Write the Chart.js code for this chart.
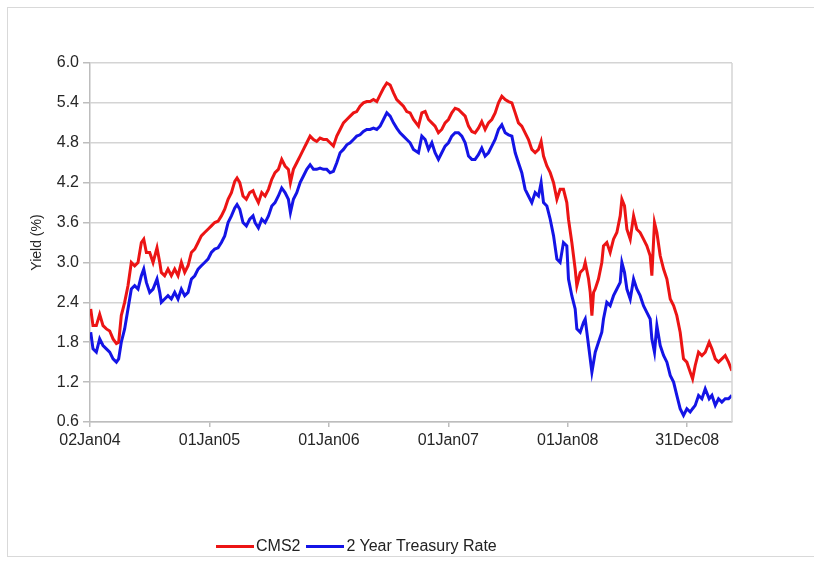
<!DOCTYPE html>
<html>
<head>
<meta charset="utf-8">
<script src="https://cdn.jsdelivr.net/npm/chart.js@4.4.1/dist/chart.umd.min.js"></script>
<style>
  html, body { margin: 0; padding: 0; background: #ffffff; }
  #wrap { position: relative; width: 814px; height: 563px; overflow: hidden; }
  #frame { position: absolute; left: 7px; top: 7px; width: 900px; height: 550px; border: 1.5px solid #d9d9d9; box-sizing: border-box; }
  canvas { position: absolute; left: 0; top: 0; }
  #legend { position: absolute; left: 216px; top: 537px; display: flex; align-items: center; font-family: "Liberation Sans", Arial, sans-serif; font-size: 16px; color: #222; white-space: nowrap; }
  #legend .item { display: flex; align-items: center; margin-right: 6px; }
  #legend .swatch { display: inline-block; width: 38px; height: 3px; margin-right: 2px; }
</style>
</head>
<body>
<div id="wrap">
  <div id="frame"></div>
  <canvas id="c" width="814" height="563"></canvas>
  <div id="legend"></div>
</div>
<script>
// Time in years since 02 Jan 2004
const time = [
  0.006,0.025,0.053,0.081,0.109,0.137,0.165,0.193,0.221,0.240,0.262,0.290,0.318,0.346,0.374,0.402,0.430,0.450,0.472,0.500,
  0.528,0.561,0.584,0.597,0.625,0.653,0.681,0.709,0.737,0.765,0.793,0.821,0.849,0.877,0.905,0.932,0.960,0.988,1.016,1.044,
  1.072,1.100,1.128,1.156,1.184,1.212,1.231,1.254,1.281,1.309,1.337,1.365,1.382,1.410,1.438,1.466,1.494,1.522,1.549,1.577,
  1.605,1.633,1.661,1.678,1.703,1.731,1.759,1.787,1.815,1.843,1.871,1.898,1.926,1.954,1.982,2.010,2.038,2.066,2.094,2.122,
  2.150,2.178,2.206,2.233,2.261,2.289,2.317,2.345,2.373,2.401,2.429,2.457,2.485,2.513,2.541,2.568,2.596,2.624,2.652,2.680,
  2.708,2.750,2.778,2.806,2.834,2.862,2.889,2.917,2.945,2.973,3.001,3.029,3.057,3.085,3.113,3.141,3.169,3.197,3.224,3.252,
  3.280,3.308,3.336,3.364,3.392,3.420,3.448,3.476,3.504,3.532,3.560,3.587,3.615,3.643,3.671,3.699,3.727,3.755,3.777,3.797,
  3.825,3.853,3.881,3.909,3.936,3.964,3.992,4.006,4.034,4.062,4.076,4.104,4.132,4.146,4.174,4.188,4.202,4.216,4.230,4.257,
  4.285,4.299,4.327,4.355,4.383,4.411,4.439,4.453,4.475,4.495,4.523,4.551,4.578,4.606,4.634,4.662,4.690,4.704,4.726,4.746,
  4.774,4.802,4.830,4.858,4.886,4.913,4.941,4.969,4.997,5.025,5.045,5.067,5.095,5.123,5.151,5.184,5.207,5.235,5.262,5.290,
  5.318,5.346,5.374
];

const cms2 = [
  2.30,2.05,2.05,2.22,2.05,2.00,1.97,1.85,1.78,1.80,2.20,2.40,2.65,3.00,2.95,3.00,3.30,3.35,3.15,3.15,
  3.00,3.22,3.00,2.85,2.80,2.90,2.80,2.90,2.80,3.00,2.85,2.95,3.15,3.20,3.30,3.40,3.45,3.50,3.55,3.60,
  3.62,3.70,3.80,3.95,4.05,4.22,4.27,4.20,4.00,3.95,4.05,4.08,4.00,3.90,4.05,4.00,4.10,4.25,4.35,4.40,
  4.55,4.45,4.40,4.20,4.40,4.50,4.60,4.70,4.80,4.90,4.85,4.82,4.87,4.85,4.85,4.80,4.75,4.90,5.00,5.10,
  5.15,5.20,5.25,5.27,5.35,5.40,5.42,5.42,5.45,5.42,5.52,5.62,5.70,5.67,5.55,5.45,5.40,5.35,5.27,5.25,
  5.15,5.05,5.25,5.27,5.15,5.10,5.05,4.95,5.00,5.10,5.15,5.25,5.32,5.30,5.25,5.20,5.05,4.97,4.95,5.02,
  5.12,5.00,5.10,5.15,5.25,5.40,5.50,5.45,5.42,5.40,5.25,5.10,5.05,4.95,4.85,4.70,4.65,4.70,4.82,4.60,
  4.45,4.35,4.20,3.95,4.10,4.10,3.90,3.65,3.30,2.90,2.65,2.85,2.90,3.00,2.75,2.55,2.20,2.55,2.60,2.75,
  3.00,3.25,3.30,3.15,3.35,3.45,3.70,3.95,3.85,3.50,3.35,3.70,3.50,3.45,3.35,3.25,3.10,2.80,3.60,3.45,
  3.10,2.90,2.75,2.45,2.35,2.20,1.95,1.55,1.50,1.35,1.25,1.45,1.65,1.60,1.65,1.80,1.70,1.55,1.50,1.55,
  1.60,1.50,1.37
];

const treasury = [
  1.95,1.70,1.65,1.85,1.75,1.70,1.65,1.55,1.50,1.55,1.80,2.00,2.30,2.60,2.65,2.60,2.80,2.90,2.70,2.55,
  2.60,2.75,2.55,2.40,2.45,2.50,2.45,2.55,2.45,2.60,2.50,2.55,2.75,2.80,2.90,2.95,3.00,3.05,3.15,3.20,
  3.22,3.30,3.40,3.60,3.70,3.82,3.87,3.80,3.60,3.55,3.65,3.70,3.60,3.52,3.65,3.60,3.70,3.85,3.90,4.00,
  4.12,4.05,3.95,3.75,3.95,4.05,4.20,4.30,4.40,4.47,4.40,4.40,4.42,4.40,4.40,4.35,4.37,4.50,4.65,4.70,
  4.77,4.80,4.85,4.90,4.92,4.97,5.00,5.00,5.02,5.00,5.05,5.15,5.25,5.20,5.10,5.02,4.95,4.90,4.85,4.80,
  4.70,4.65,4.90,4.85,4.70,4.80,4.65,4.55,4.65,4.75,4.80,4.90,4.95,4.95,4.90,4.80,4.60,4.55,4.55,4.62,
  4.72,4.60,4.65,4.75,4.85,5.00,5.07,4.95,4.92,4.90,4.65,4.50,4.35,4.10,4.00,3.90,4.05,4.00,4.20,3.90,
  3.85,3.65,3.40,3.05,3.00,3.30,3.25,2.75,2.50,2.30,2.00,1.95,2.10,2.15,1.75,1.55,1.35,1.50,1.65,1.80,
  1.95,2.15,2.40,2.35,2.50,2.60,2.70,3.00,2.85,2.60,2.45,2.75,2.60,2.50,2.35,2.25,2.15,1.85,1.65,2.05,
  1.75,1.60,1.50,1.30,1.20,1.00,0.80,0.70,0.80,0.75,0.80,0.85,1.00,0.95,1.10,0.95,1.00,0.85,0.95,0.90,
  0.95,0.95,1.00
];

const xTickPositions = [0, 1, 2, 3, 4, 5];
const xTickLabels = ['02Jan04', '01Jan05', '01Jan06', '01Jan07', '01Jan08', '31Dec08'];
const yTicks = [0.6, 1.2, 1.8, 2.4, 3.0, 3.6, 4.2, 4.8, 5.4, 6.0];
const seriesNames = ['CMS2', '2 Year Treasury Rate'];
const seriesColors = ['rgb(236,20,20)', 'rgb(20,20,230)'];

const FONT = '"Liberation Sans", Arial, sans-serif';
const TEXT = '#262626';
const GRID = '#d4d4d4';
const AXIS = '#bdbdbd';

const plotRightBorder = {
  id: 'plotRightBorder',
  afterDraw(chart) {
    const { ctx, chartArea } = chart;
    ctx.save();
    ctx.strokeStyle = GRID;
    ctx.lineWidth = 1.5;
    ctx.beginPath();
    ctx.moveTo(chartArea.right, chartArea.top);
    ctx.lineTo(chartArea.right, chartArea.bottom);
    ctx.stroke();
    ctx.restore();
  }
};

const chart = new Chart(document.getElementById('c'), {
  type: 'line',
  data: {
    datasets: [
      { label: seriesNames[0], data: time.map((t, i) => ({ x: t, y: cms2[i] })), borderColor: seriesColors[0], backgroundColor: seriesColors[0], borderWidth: 3, pointRadius: 0, tension: 0, order: 2 },
      { label: seriesNames[1], data: time.map((t, i) => ({ x: t, y: treasury[i] })), borderColor: seriesColors[1], backgroundColor: seriesColors[1], borderWidth: 3, pointRadius: 0, tension: 0, order: 1 }
    ]
  },
  options: {
    responsive: false,
    animation: false,
    layout: { padding: { left: 0, top: 63, right: 82, bottom: 111 } },
    plugins: { legend: { display: false }, tooltip: { enabled: false } },
    scales: {
      x: {
        type: 'linear',
        min: 0,
        max: 5.375,
        afterBuildTicks: s => { s.ticks = xTickPositions.map(v => ({ value: v })); },
        afterFit: s => { s.height = 30; },
        ticks: {
          autoSkip: false,
          maxRotation: 0,
          padding: 4,
          color: TEXT,
          font: { family: FONT, size: 16 },
          callback: (v, i) => xTickLabels[i]
        },
        grid: { drawOnChartArea: false, drawTicks: true, tickLength: 5, color: AXIS, lineWidth: 1.5 },
        border: { color: AXIS, width: 1.5 }
      },
      y: {
        min: 0.6,
        max: 6.0,
        afterBuildTicks: s => { s.ticks = yTicks.map(v => ({ value: v })); },
        afterFit: s => { s.width = 90; },
        ticks: {
          padding: 4,
          color: TEXT,
          font: { family: FONT, size: 16 },
          callback: v => Number(v).toFixed(1)
        },
        grid: { color: GRID, lineWidth: 1.5, tickLength: 7, tickColor: AXIS },
        border: { color: AXIS, width: 1.5 },
        title: { display: true, text: 'Yield (%)', color: TEXT, font: { family: FONT, size: 14 }, padding: { top: 29, bottom: 0 } }
      }
    }
  },
  plugins: [plotRightBorder]
});

// HTML legend built from the chart's datasets
const legendEl = document.getElementById('legend');
chart.data.datasets.forEach(ds => {
  const item = document.createElement('span');
  item.className = 'item';
  const sw = document.createElement('span');
  sw.className = 'swatch';
  sw.style.background = ds.borderColor;
  const tx = document.createElement('span');
  tx.textContent = ds.label;
  item.appendChild(sw);
  item.appendChild(tx);
  legendEl.appendChild(item);
});
</script>
</body>
</html>
